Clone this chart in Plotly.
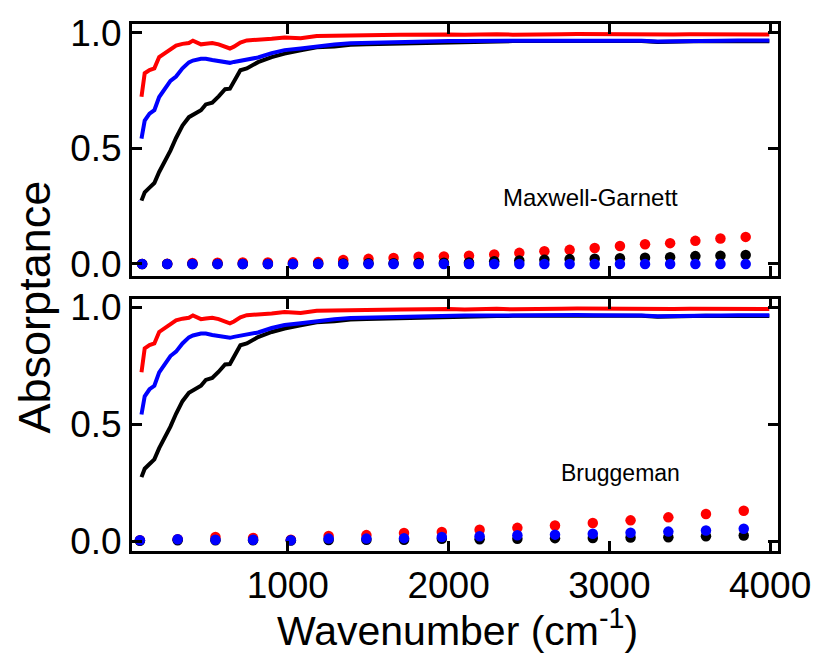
import plotly.graph_objects as go

# ---- data ----
wn_curve = [90, 110, 140, 170, 200, 235, 270, 305, 345, 385, 410, 460, 490, 530, 570, 610, 640, 665,
            705, 745, 815, 900, 980, 1080, 1180, 1290, 1390, 1490, 1590, 1700, 1800, 1900, 2000, 2100,
            2200, 2300, 2400, 2500, 2600, 2700, 2800, 2900, 3000, 3100, 3200, 3300, 3400, 3500, 3600,
            3700, 3800, 3900, 3995]
red_curve = [0.723, 0.825, 0.839, 0.846, 0.895, 0.912, 0.924, 0.945, 0.952, 0.956, 0.966, 0.950, 0.953,
             0.956, 0.950, 0.942, 0.932, 0.940, 0.958, 0.967, 0.969, 0.974, 0.980, 0.976, 0.986, 0.988,
             0.990, 0.989, 0.990, 0.991, 0.993, 0.992, 0.993, 0.991, 0.993, 0.994, 0.992, 0.994, 0.993,
             0.994, 0.995, 0.994, 0.995, 0.994, 0.991, 0.990, 0.993, 0.994, 0.993, 0.995, 0.994, 0.994,
             0.993]
blue_curve = [0.542, 0.620, 0.650, 0.665, 0.722, 0.760, 0.792, 0.811, 0.846, 0.872, 0.880, 0.888, 0.888,
              0.882, 0.877, 0.874, 0.870, 0.874, 0.880, 0.885, 0.893, 0.912, 0.925, 0.932, 0.942, 0.949,
              0.955, 0.957, 0.959, 0.960, 0.963, 0.962, 0.964, 0.965, 0.965, 0.966, 0.966, 0.967, 0.966,
              0.968, 0.968, 0.967, 0.968, 0.968, 0.966, 0.962, 0.964, 0.966, 0.967, 0.966, 0.967, 0.968,
              0.967]
black_curve = [0.274, 0.310, 0.330, 0.350, 0.398, 0.440, 0.490, 0.545, 0.599, 0.635, 0.645, 0.665, 0.690,
               0.698, 0.725, 0.756, 0.758, 0.790, 0.838, 0.846, 0.873, 0.895, 0.910, 0.924, 0.937, 0.941,
               0.948, 0.950, 0.952, 0.953, 0.954, 0.956, 0.958, 0.960, 0.961, 0.963, 0.964, 0.964, 0.964,
               0.965, 0.965, 0.965, 0.966, 0.966, 0.964, 0.960, 0.962, 0.963, 0.964, 0.963, 0.964, 0.964,
               0.963]

# Maxwell-Garnett model points
wn_mg = [94, 250, 407, 563, 720, 876, 1032, 1189, 1345, 1502, 1658, 1814, 1971, 2127, 2284, 2440,
         2596, 2753, 2909, 3066, 3222, 3378, 3535, 3691, 3848]
red_mg = [0.0, 0.001, 0.004, 0.005, 0.006, 0.006, 0.007, 0.008, 0.017, 0.022, 0.026, 0.031, 0.032,
          0.036, 0.041, 0.048, 0.055, 0.061, 0.069, 0.078, 0.085, 0.090, 0.100, 0.110, 0.117]
black_mg = [0.0, 0.0, 0.0, 0.0, 0.0, 0.0, 0.0, 0.001, 0.002, 0.003, 0.003, 0.004, 0.005, 0.006, 0.012,
            0.015, 0.018, 0.021, 0.023, 0.025, 0.027, 0.029, 0.034, 0.036, 0.039]
blue_mg = [0.0, 0.0, 0.0, 0.0, 0.0, 0.0, 0.0, 0.0, 0.0, 0.0, 0.0, 0.0, 0.0, 0.0, 0.0, 0.0, 0.0, 0.0,
           0.0, 0.0, 0.0, 0.0, 0.0, 0.0, 0.0]

# Bruggeman model points
wn_br = [80, 315, 550, 784, 1019, 1254, 1489, 1723, 1958, 2193, 2428, 2662, 2897, 3132, 3367, 3601, 3836]
red_br = [0.004, 0.008, 0.018, 0.014, 0.006, 0.022, 0.026, 0.035, 0.039, 0.049, 0.057, 0.067, 0.078,
          0.089, 0.102, 0.116, 0.130]
blue_br = [0.004, 0.008, 0.006, 0.006, 0.004, 0.011, 0.011, 0.013, 0.018, 0.021, 0.025, 0.028, 0.032,
           0.036, 0.041, 0.046, 0.053]
black_br = [0.002, 0.004, 0.004, 0.004, 0.003, 0.005, 0.006, 0.006, 0.010, 0.008, 0.010, 0.013, 0.014,
            0.016, 0.017, 0.021, 0.024]

x_ticks = [1000, 2000, 3000, 4000]
y_ticks = [0.0, 0.5, 1.0]

RED, BLUE, BLACK = "#ff0000", "#0000ff", "#000000"
FONT = "Liberation Sans, Arial, sans-serif"

fig = go.Figure()


def add_panel(xa, ya, dots):
    for x, y, c in dots:
        fig.add_trace(go.Scatter(x=x, y=y, mode="markers", marker=dict(color=c, size=10.5),
                                 xaxis=xa, yaxis=ya, showlegend=False, hoverinfo="skip"))
    for y, c in [(black_curve, BLACK), (blue_curve, BLUE), (red_curve, RED)]:
        fig.add_trace(go.Scatter(x=wn_curve, y=y, mode="lines", line=dict(color=c, width=4),
                                 xaxis=xa, yaxis=ya, showlegend=False, hoverinfo="skip"))


add_panel("x", "y", [(wn_mg, red_mg, RED), (wn_mg, black_mg, BLACK), (wn_mg, blue_mg, BLUE)])
add_panel("x2", "y2", [(wn_br, red_br, RED), (wn_br, black_br, BLACK), (wn_br, blue_br, BLUE)])

axis_common = dict(showline=True, linecolor="black", linewidth=3, mirror="ticks", ticks="inside",
                   ticklen=10, tickwidth=3, tickcolor="black", showgrid=False, zeroline=False,
                   tickfont=dict(family=FONT, size=37, color="black"))

W, H = 823, 666
ml, mr, mt, mb = 132, 36, 13, 115
ph = H - mt - mb
top_lo = (551 - 270) / ph
bot_hi = (551 - 294) / ph

fig.update_layout(
    width=W, height=H,
    margin=dict(l=ml, r=mr, t=mt, b=mb),
    plot_bgcolor="white", paper_bgcolor="white",
    xaxis=dict(**axis_common, range=[31, 4049], tickvals=x_ticks, showticklabels=False,
               domain=[0, 1], anchor="y"),
    yaxis=dict(**axis_common, range=[-0.051, 1.038], tickvals=y_ticks, tickformat=".1f",
               domain=[top_lo, 1], anchor="x", ticklabelstandoff=0),
    xaxis2=dict(**axis_common, range=[31, 4049], tickvals=x_ticks, domain=[0, 1], anchor="y2"),
    yaxis2=dict(**axis_common, range=[-0.042, 1.035], tickvals=y_ticks, tickformat=".1f",
                domain=[0, bot_hi], anchor="x2", ticklabelstandoff=0),
)


def px_to_paper(px, py):
    return (px - ml) / (W - ml - mr), (H - mb - py) / ph


ann = []
x0, y0 = px_to_paper(597, 190)
ann.append(dict(x=x0, y=y0, text="Maxwell-Garnett", font=dict(family=FONT, size=24, color="black")))
x0, y0 = px_to_paper(627, 471)
ann.append(dict(x=x0, y=y0, text="Bruggeman", font=dict(family=FONT, size=23, color="black")))
x0, y0 = px_to_paper(33, 302)
ann.append(dict(x=x0, y=y0, text="Absorptance", textangle=-90,
                font=dict(family=FONT, size=45, color="black")))
x0, y0 = px_to_paper(462, 630)
ann.append(dict(x=x0, y=y0, text="Wavenumber (cm<sup>-1</sup>)",
                font=dict(family=FONT, size=41, color="black")))
for a in ann:
    a.update(xref="paper", yref="paper", showarrow=False, xanchor="center", yanchor="middle")
fig.update_layout(annotations=ann)

fig.write_html("out.html")
